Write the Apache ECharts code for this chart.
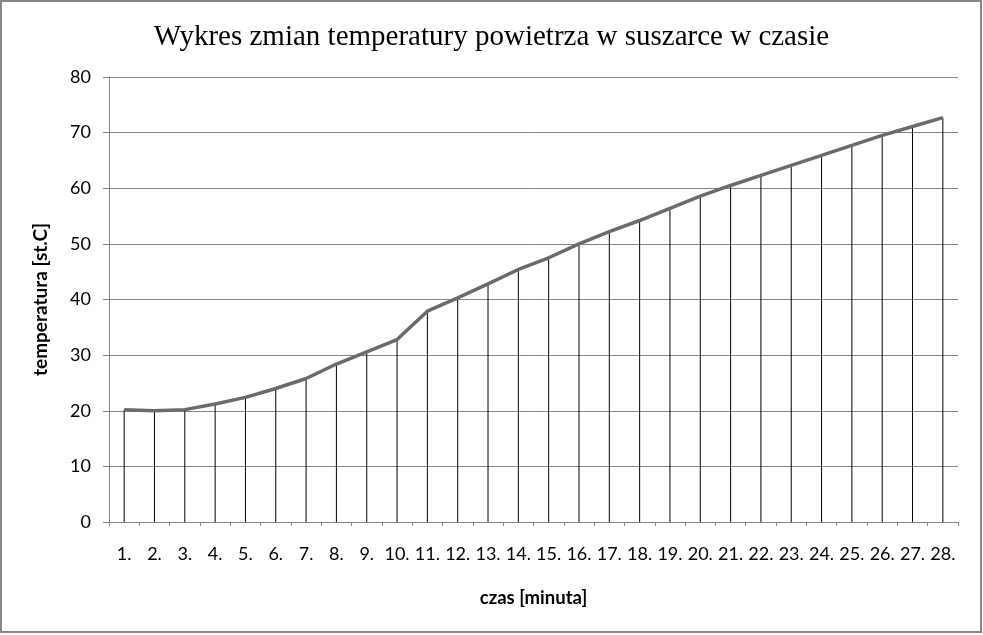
<!DOCTYPE html>
<html>
<head>
<meta charset="utf-8">
<script src="https://cdn.jsdelivr.net/npm/echarts@6/dist/echarts.min.js"></script>
<style>
html,body{margin:0;padding:0;background:#fff;}
#chart{width:983px;height:635px;}
</style>
</head>
<body>
<div id="chart"></div>
<script>
var categories = ['1.','2.','3.','4.','5.','6.','7.','8.','9.','10.','11.','12.','13.','14.','15.','16.','17.','18.','19.','20.','21.','22.','23.','24.','25.','26.','27.','28.'];
var temperature = [20.2,20.0,20.2,21.2,22.4,24.0,25.8,28.4,30.6,32.8,37.9,40.3,42.8,45.4,47.5,50.0,52.2,54.2,56.4,58.6,60.5,62.3,64.1,65.9,67.7,69.5,71.1,72.7];
var yTicks = {min:0, max:80, interval:10};
var titleText = 'Wykres zmian temperatury powietrza w suszarce w czasie';
var xName = 'czas [minuta]';
var yName = 'temperatura [st.C]';

var chart = echarts.init(document.getElementById('chart'), null, {renderer:'canvas'});
chart.setOption({
  animation:false,
  backgroundColor:'#fff',
  title:{
    text:titleText, left:'center', top:18,
    textStyle:{fontFamily:'Liberation Serif', fontSize:29, fontWeight:'normal', color:'#000'}
  },
  graphic:[{
    type:'rect', shape:{x:1,y:1,width:980,height:631},
    style:{fill:'none', stroke:'#878787', lineWidth:2}, silent:true, z:100
  }],
  grid:{left:109, right:25, top:77, bottom:113, containLabel:false},
  xAxis:{
    type:'category', data:categories, boundaryGap:true,
    name:xName, nameLocation:'middle', nameGap:67,
    nameTextStyle:{fontFamily:'Lato', fontSize:18.5, fontWeight:'bold', color:'#000'},
    axisLine:{lineStyle:{color:'#868686', width:1}},
    axisTick:{show:true, length:4, inside:false, lineStyle:{color:'#868686'}},
    axisLabel:{fontFamily:'Lato', fontSize:18, color:'#000', margin:23, interval:0},
    splitLine:{show:false}
  },
  yAxis:{
    type:'value', min:yTicks.min, max:yTicks.max, interval:yTicks.interval,
    name:yName, nameLocation:'middle', nameGap:59, nameRotate:90,
    nameTextStyle:{fontFamily:'Lato', fontSize:19, fontWeight:'bold', color:'#000'},
    axisLine:{show:true, lineStyle:{color:'#868686', width:1}},
    axisTick:{show:true, length:6, lineStyle:{color:'#868686'}},
    axisLabel:{fontFamily:'Lato', fontSize:18, color:'#000', margin:18},
    splitLine:{show:true, lineStyle:{color:'#868686', width:1}}
  },
  series:[
    {
      type:'bar', data:temperature, barWidth:1, barGap:'-100%',
      itemStyle:{color:'#000'}, z:2, silent:true
    },
    {
      type:'line', data:temperature, symbol:'none', smooth:false,
      lineStyle:{color:'#6b6b6b', width:3.5}, z:3
    }
  ]
});
</script>
</body>
</html>
